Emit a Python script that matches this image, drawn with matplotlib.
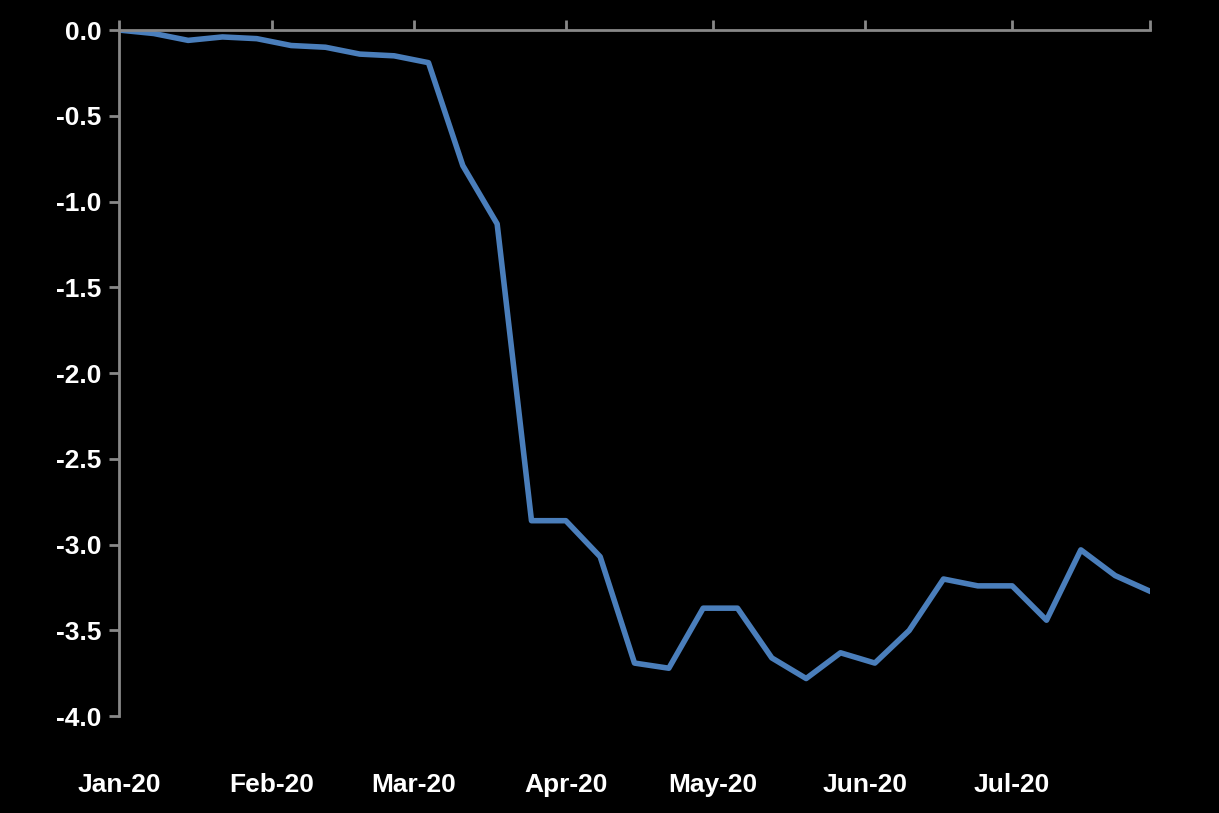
import matplotlib
matplotlib.use("Agg")
import matplotlib.pyplot as plt
import pandas as pd

dates = pd.date_range("2020-01-01", periods=31, freq="7D")
values = [0.0, -0.02, -0.06, -0.04, -0.05, -0.09, -0.10, -0.14, -0.15, -0.19,
          -0.79, -1.13, -2.86, -2.86, -3.07, -3.69, -3.72, -3.37, -3.37, -3.66,
          -3.78, -3.63, -3.69, -3.50, -3.20, -3.24, -3.24, -3.44, -3.03, -3.18, -3.27]
month_ticks = pd.date_range("2020-01-01", "2020-07-01", freq="MS")
month_labels = ["Jan-20", "Feb-20", "Mar-20", "Apr-20", "May-20", "Jun-20", "Jul-20"]

plt.rcParams["font.family"] = ["Liberation Sans", "DejaVu Sans"]
fig = plt.figure(figsize=(12.19, 8.13), dpi=100, facecolor="black")
ax = fig.add_axes([0.098, 0.119, 0.845, 0.844], facecolor="black")

ax.plot(dates, values, color="#4a7ebb", linewidth=4)

ax.set_ylim(-4, 0)
ax.set_xlim(dates[0], dates[-1])
ax.set_yticks([0, -0.5, -1, -1.5, -2, -2.5, -3, -3.5, -4])
ax.set_yticklabels(["0.0", "-0.5", "-1.0", "-1.5", "-2.0", "-2.5", "-3.0", "-3.5", "-4.0"])
ax.set_xticks(list(month_ticks) + [dates[-1]])
ax.set_xticklabels(month_labels + [""])

for s in ["right", "bottom"]:
    ax.spines[s].set_visible(False)
for s in ["left", "top"]:
    ax.spines[s].set_color("#888888")
    ax.spines[s].set_linewidth(2)

ax.tick_params(axis="x", top=True, bottom=False, labeltop=False, labelbottom=True,
               direction="out", length=7, width=2, color="#888888",
               labelcolor="white", labelsize=19, pad=34)
ax.tick_params(axis="y", direction="out", length=7, width=2, color="#888888",
               labelcolor="white", labelsize=19, pad=6)
for lab in ax.get_xticklabels() + ax.get_yticklabels():
    lab.set_fontweight("bold")

fig.savefig("out.png", dpi=100, facecolor="black")
